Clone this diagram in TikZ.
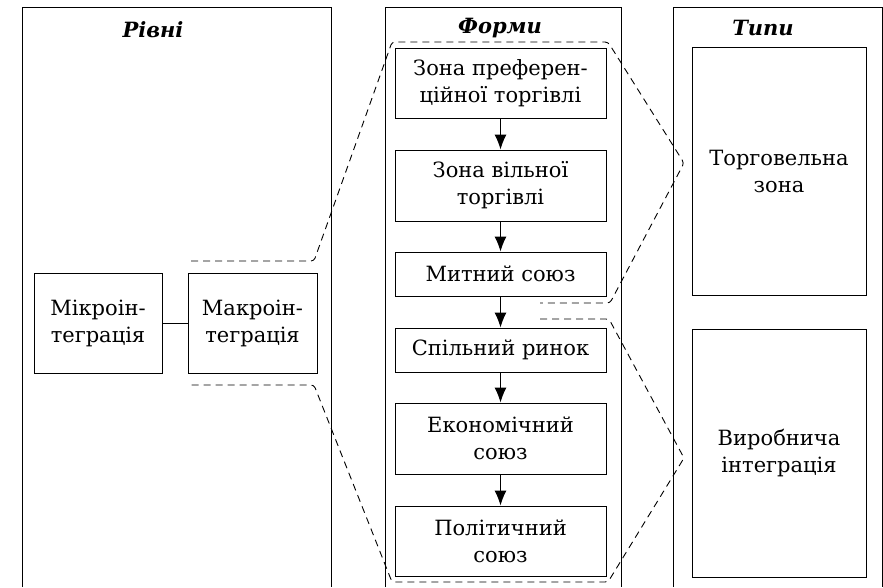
\documentclass[tikz,border=0pt]{standalone}
\usepackage{fontspec}
\setmainfont{DejaVu Serif}
\usetikzlibrary{arrows.meta}

\begin{document}
\begin{tikzpicture}[x=1pt,y=-1pt,
    box/.style={draw,line width=1pt,align=center,inner sep=0pt,font=\fontsize{21}{27}\selectfont},
    title/.style={font=\fontsize{21}{24}\selectfont\bfseries\itshape},
    bracket/.style={line width=0.9pt,dash pattern=on 7pt off 5pt,rounded corners=3pt},
    arr/.style={-{Latex[length=15pt,width=12pt]},line width=1pt}]
          \useasboundingbox (0,0) rectangle (883,587);
          % Columns (open at the bottom)
          \draw[line width=1pt] (22,587) |- (331,7) -- (331,587);
          \draw[line width=1pt] (385,587) |- (621,7) -- (621,587);
          \draw[line width=1pt] (673,587) |- (882,7) -- (882,587);
          \node[title] (levels) at (153,30) {Рівні};
          \node[title] (forms) at (500,28) {Форми};
          \node[title] (types) at (763,28) {Типи};

          % Levels
          \node[box,minimum width=128pt,minimum height=100pt] (micro) at (98,323) {Мікроін-\\теграція};
          \node[box,minimum width=129pt,minimum height=100pt] (macro) at (252.5,323) {Макроін-\\теграція};
          \draw[line width=1pt] (micro) -- (macro);

          % Forms
          \node[box,minimum width=211pt,minimum height=70pt] (pref) at (500.5,83) {Зона преферен-\\ційної торгівлі};
          \node[box,minimum width=211pt,minimum height=71pt] (free) at (500.5,185.5) {Зона вільної\\торгівлі};
          \node[box,minimum width=211pt,minimum height=44pt] (customs) at (500.5,274) {Митний союз};
          \node[box,minimum width=211pt,minimum height=44pt] (market) at (500.5,350) {Спільний ринок};
          \node[box,minimum width=211pt,minimum height=71pt] (econ) at (500.5,438.5) {Економічний\\союз};
          \node[box,minimum width=211pt,minimum height=70pt] (polit) at (500.5,541) {Політичний\\союз};
          \draw[arr] (pref) -- (free);
          \draw[arr] (free) -- (customs);
          \draw[arr] (customs) -- (market);
          \draw[arr] (market) -- (econ);
          \draw[arr] (econ) -- (polit);

          % Types
          \node[box,minimum width=174pt,minimum height=248pt] (trade) at (779,171) {Торговельна\\зона};
          \node[box,minimum width=174pt,minimum height=248pt] (prod) at (779,453) {Виробнича\\інтеграція};

          % Dashed brackets
          \draw[bracket] (191,261) -- (314,261) -- (392,42) -- (608,42) -- (684,163) -- (610,303) -- (540,303);
          \draw[bracket] (540,319) -- (609,319) -- (684,458) -- (608,582) -- (392,582) -- (314,385) -- (191,385);
\end{tikzpicture}
\end{document}
